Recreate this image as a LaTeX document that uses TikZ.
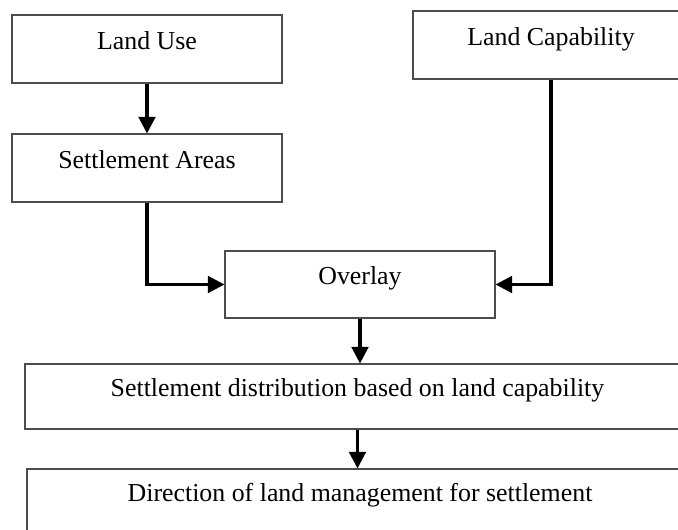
\documentclass[tikz,border=0pt]{standalone}
\usepackage{fontspec}
\setmainfont{Liberation Serif}
\usetikzlibrary{arrows.meta,
    positioning}

\begin{document}
\begin{tikzpicture}[x=0.75pt,y=-0.75pt,
    box/.style={draw=black!70,line width=0.8pt,inner sep=0pt,
      text height=14pt,text depth=14pt,font=\fontsize{19.4}{22}\selectfont},
    flow/.style={line width=2.4pt,-{Triangle[length=12.5pt,width=12.5pt]}}]
  \useasboundingbox (0,0) rectangle (678,529);
  \node[box,minimum width=202.5pt,minimum height=51pt] (landuse) at (147,49) {Land Use};
  \node[box,minimum width=202.5pt,minimum height=51pt] (settle) at (147,168) {Settlement Areas};
  \node[box,minimum width=207pt,minimum height=51pt] (landcap) at (551,45) {Land Capability};
  \node[box,minimum width=202.5pt,minimum height=50.25pt] (overlay) at (360,284.5) {Overlay};
  \node[box,minimum width=498.75pt,minimum height=48.75pt] (distrib) at (357.5,396.5) {Settlement distribution based on land capability};
  \node[box,minimum width=499.5pt,minimum height=48.75pt] (direction) at (360,501.5) {Direction of land management for settlement};
  % arrows
  \draw[flow] (landuse.south) -- (settle.north);
  \draw[flow] (settle.south) |- (overlay.west);
  \draw[flow] (landcap.south) |- (overlay.east);
  \draw[flow] (overlay.south) -- (overlay.south |- distrib.north);
  \draw[flow] (distrib.south) -- (distrib.south |- direction.north);
\end{tikzpicture}
\end{document}
